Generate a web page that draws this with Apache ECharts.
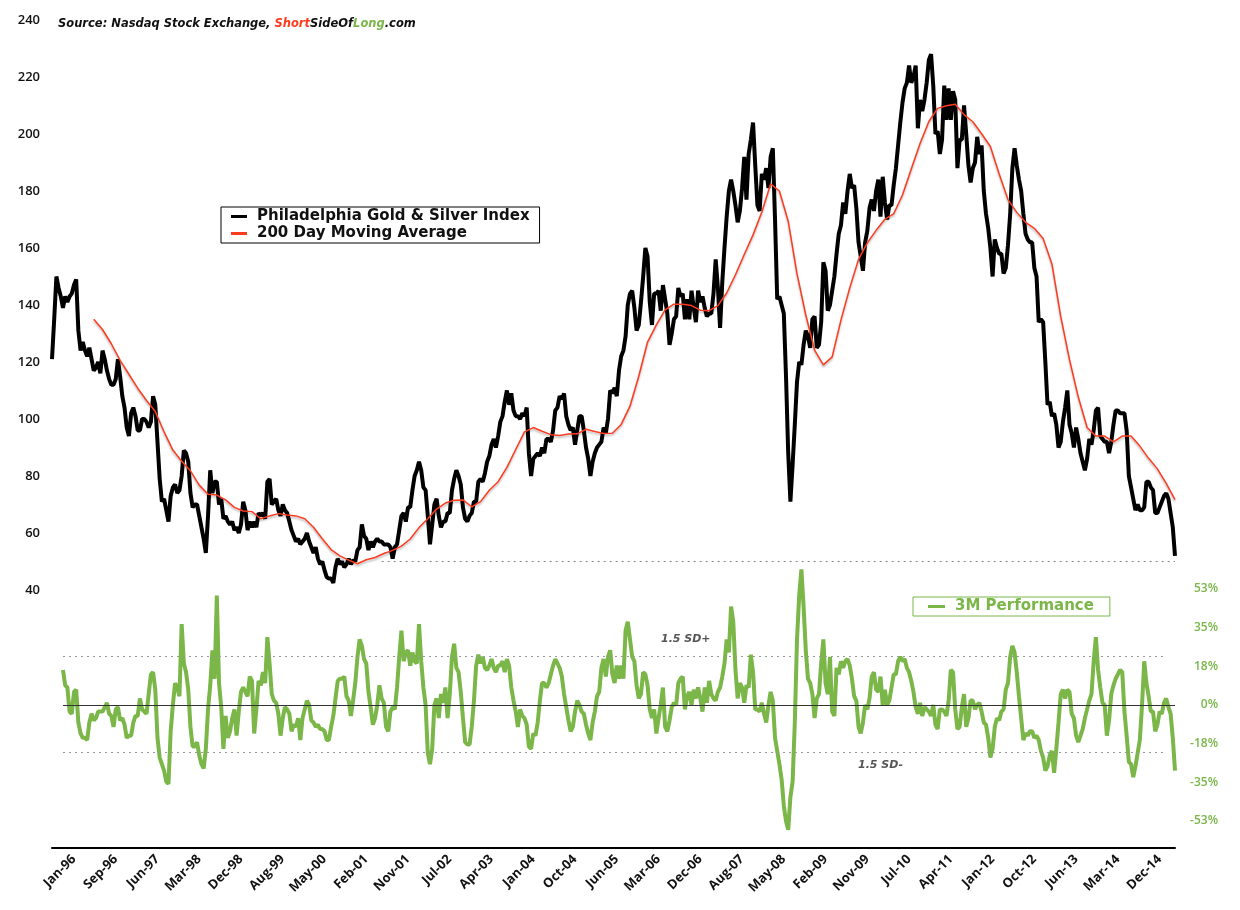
<!DOCTYPE html>
<html><head><meta charset="utf-8">
<script src="https://cdn.jsdelivr.net/npm/echarts@6/dist/echarts.min.js"></script>
<style>html,body{margin:0;padding:0;background:#fff}#c{width:1240px;height:910px}</style>
</head><body><div id="c"></div>
<script>
// ---- data ----
const START_DATE = [1996, 0, 5];   // first weekly observation
const STEP_DAYS = 14;              // one sample every two weeks
const LABEL_EVERY = 19;            // a tick label every 38 weeks
const MONTHS = ['Jan','Feb','Mar','Apr','May','Jun','Jul','Aug','Sep','Oct','Nov','Dec'];

const XAU = [
121,135,150,146,143,139,143,141,143,144,
147,149,131,124,127,124,122,125,121,117,
118,120,116,124,121,117,114,112,112,114,
121,115,108,104,97,94,102,104,101,96,
96,100,100,99,97,99,108,105,92,79,
71,72,68,64,73,76,77,74,75,80,
89,88,85,74,69,70,70,66,62,58,
53,66,82,74,78,78,70,72,65,66,
64,63,64,61,62,60,63,71,68,61,
64,62,64,62,67,66,67,65,78,79,
70,71,72,68,66,70,68,67,64,61,
59,57,58,56,57,58,60,57,55,53,
55,51,49,50,47,44.5,44,44,42.5,48,
51,49,50,48,49,51,49,50.5,50,54,
55,63,59,58,54,57,55,57,58,57,
57,56,56,56,55,51,55,56,61,66,
67,64,69,69,75,80,82,85,82,76,
75,66,56,63,70,72,66,62,64,64,
67,67,75,79,82,80,77,69,65,64,
66,67,71,71,78,79,78,81,85,87,
91,93,90,94,99,101,106,110,105,109,
103,101,101,100,102,101,104,88,80,86,
87,88,87,90,88,93,93,92,96,103,
104,108,107,109,101,98,96,97,91,96,
101,101,96,90,86,80,85,88,90,91,
92,97,95,100,110,109,111,108,117,122,
124,129,140,144,145,139,131,133,141,150,
160,157,141,133,144,144,145,138,147,142,
137,126,130,135,136,146,143,144,135,142,
135,145,139,134,145,141,143,139,136,137,
137,144,156,146,132,148,160,171,180,184,
180,175,169,173,181,192,177,193,198,204,
189,175,173,186,184,188,181,192,195,170,
142,143,140,137,115,88,71,84,98,113,
120,119,126,131,129,125,135,136,125,126,
134,155,152,138,140,145,150,158,165,168,
176,172,180,186,181,182,174,162,157,152,
162,166,174,177,173,180,184,171,185,176,
170,175,175,182,188,196,204,211,216,218,
224,218,220,224,202,212,208,212,218,226,
228,217,200,201,193,198,217,205,216,205,
215,212,188,198,198,210,200,189,183,188,
190,199,193,196,180,172,167,160,150,163,
160,158,158,151,153,161,172,188,195,189,
184,180,172,165,163,162,162,153,150,134,
135,134,120,105,106,101,102,98,90,92,
99,104,110,98,95,90,97,93,88,85,
82,86,93,91,96,103,104,94,93,92,
92,88,92,98,103,103,102,102,102,96,
80,76,72,68,70,68,68,69,78,78,
76,75,67,67,69,71,73,74,72,67,
62,52
];

// 200-day moving average, read every 4th sample starting at sample 19
const MA_START = 19, MA_STEP = 4;
const MA200 = [
135,131.4,126.4,120.6,115.7,110.8,106.5,102.6,95.5,89.1,
85.2,81.8,76.8,73.6,73.3,71.6,69,67.7,67.5,65,
66,66.8,66.3,66,65,62,58,54.2,52,50.5,
49.2,50.6,51.4,52.8,53.9,55.4,57.9,61.9,65,68.4,
70.5,71.5,71.6,69.2,71,75,78,83,89.3,95.5,
97,95.7,94.5,94.2,94.7,94.8,96.4,95.6,94.9,95,
98.1,104.5,115,127,133,138.3,140.3,140.3,139.8,138.2,
138,139.8,144.2,150.6,157.7,164.6,172.6,182.5,180,169.4,
151,136.5,124.2,119,121.8,134.7,146,156,161.8,166.2,
170.1,172,178.6,187.7,196.7,204.4,209,209.9,210.4,206.8,
204.3,200.1,195.6,186,177,172.5,169,166.9,163.3,154.4,
136,120.8,107.7,97,94,94,92,94,94,90.5,
86.2,82.5,77.4,71.7
];

// 3-month performance, percent
const PERF_3M = [
null,null,null,null,null,16,9,8,-3,-4,
6,7,-8,-13,-15,-15,-16,-8,-4,-7,
-6,-3,-3,-3,-1,1,-4,-5,-10,-2,
-1,-7,-6,-9,-15,-14,-14,-8,-5,-5,
3,-2,-3,-4,5,14,15,7,-15,-24,
-27,-30,-35,-36,-12,0,10,8,4,37,
19,15,7,-10,-19,-19,-17,-23,-27,-29,
-20,-2,9,25,12,50,10,-1,-20,-5,
-15,-12,-6,-2,-14,-3,6,8,6,4,
13,11,-13,-2,11,9,15,10,31,19,
5,2,1,-4,-14,-6,-1,-2,-4,-12,
-9,-10,-6,-16,-6,-2,2,0,-7,-8,
-10,-9,-11,-11,-12,-16,-16,-10,-5,3,
11,12,12,13,4,2,-5,2,10,22,
30,27,21,19,6,-1,-9,-6,0,9,
3,1,-10,-12,-3,-1,-2,8,22,34,
20,24,25,18,24,20,19,37,20,8,
0,-22,-27,-20,0,3,-6,5,1,8,
-6,5,22,28,17,15,6,-6,-17,-18,
-18,-10,2,18,23,19,22,17,16,18,
21,17,15,18,18,20,15,21,18,8,
2,-3,-10,-2,-5,-6,-9,-19,-20,-13,
-14,-8,2,10,10,8,10,14,18,21,
19,17,13,5,-1,-7,-12,-10,-3,2,
0,-3,-4,-9,-13,-16,-8,-3,4,6,
17,21,13,22,25,14,10,18,12,18,
12,34,38,30,22,20,9,3,5,15,
14,9,-2,-6,-2,-13,-6,0,8,-10,
-12,-7,-1,1,0,10,12,13,-2,4,
6,0,7,3,8,3,-3,8,1,11,
5,3,2,6,8,13,19,30,24,45,
38,16,3,10,8,1,9,8,23,15,
-2,-2,-3,1,-4,-8,0,6,2,-15,
-21,-27,-34,-46,-53,-57,-42,-35,-8,30,
50,62,45,25,12,10,5,-6,3,5,
19,30,10,5,22,-3,-5,17,14,20,
17,20,21,18,12,4,2,-10,-13,-8,
0,-2,3,13,15,7,6,13,0,7,
0,2,8,14,14,20,22,20,21,17,
15,11,6,-1,-4,1,-5,-1,-2,-3,
-5,0,-9,-11,-2,-2,-3,-5,2,16,
15,-2,-11,-10,-1,5,-10,-6,2,2,
-2,0,1,-3,-8,-9,-15,-24,-20,-10,
-6,-7,-3,-2,7,10,22,27,24,15,
4,-6,-16,-13,-14,-12,-12,-15,-14,-16,
-21,-24,-30,-28,-23,-21,-31,-20,-8,5,
7,3,7,6,-4,-6,-14,-17,-14,-11,
-6,-2,2,5,20,31,16,8,1,0,
-14,-7,5,9,12,14,16,15,-3,-14,
-26,-27,-33,-28,-22,-16,0,20,10,4,
-3,-3,-12,-9,-3,-4,1,3,-1,-4,
-15,-30
];

const SD_PLUS = 22.4, SD_MINUS = -21.5;   // 1.5 standard-deviation bands (%)
const SUPPORT = 50;                        // dotted support level on the index
const SUPPORT_FROM = 150;                  // sample where the support line starts
const PRICE_AXIS = {min: 40, max: 240, interval: 20};
const PERF_AXIS = {min: -53, max: 53, interval: 53 / 3};

// ---- build ----
const categories = XAU.map((_, i) => {
  const d = new Date(Date.UTC(START_DATE[0], START_DATE[1], START_DATE[2] + i * STEP_DAYS));
  return MONTHS[d.getUTCMonth()] + '-' + String(d.getUTCFullYear()).slice(2);
});
const maSeries = XAU.map(() => null);
MA200.forEach((v, k) => { maSeries[MA_START + k * MA_STEP] = v; });
const firstPerf = PERF_3M.findIndex(v => v !== null);
const last = XAU.length - 1;

const NUM_FONT = '"Open Sans", "DejaVu Sans", sans-serif';
const TXT_FONT = '"DejaVu Sans", "Open Sans", sans-serif';
const GREEN = '#7ab648';
const RED = '#ff3b1f';

const chart = echarts.init(document.getElementById('c'), null, {renderer: 'canvas'});
chart.setOption({
  animation: false,
  backgroundColor: '#fff',
  textStyle: {fontFamily: TXT_FONT},
  title: {
    text: '{a|Source: Nasdaq Stock Exchange, }{r|Short}{a|SideOf}{g|Long}{a|.com}',
    left: 53, top: 13,
    textStyle: {
      rich: {
        a: {fontSize: 11.5, fontStyle: 'italic', fontWeight: 'bold', color: '#111', fontFamily: TXT_FONT},
        r: {fontSize: 11.5, fontStyle: 'italic', fontWeight: 'bold', color: RED, fontFamily: TXT_FONT},
        g: {fontSize: 11.5, fontStyle: 'italic', fontWeight: 'bold', color: GREEN, fontFamily: TXT_FONT}
      }
    }
  },
  legend: [
    {
      data: ['Philadelphia Gold & Silver Index', '200 Day Moving Average'],
      left: 221, top: 207, orient: 'vertical', itemGap: 2,
      itemWidth: 16, itemHeight: 3, icon: 'rect',
      padding: [2, 10, 2, 10], borderColor: '#000', borderWidth: 1, backgroundColor: '#fff',
      selectedMode: false,
      textStyle: {fontSize: 15, fontWeight: 'bold', color: '#111', fontFamily: TXT_FONT, padding: [0, 0, 0, 5]}
    },
    {
      data: ['3M Performance'],
      left: 913, top: 597, itemWidth: 17, itemHeight: 3, icon: 'rect',
      padding: [2, 16, 2, 15], borderColor: GREEN, borderWidth: 1, backgroundColor: '#fff',
      selectedMode: false,
      textStyle: {fontSize: 15, fontWeight: 'bold', color: GREEN, fontFamily: TXT_FONT, padding: [0, 0, 0, 5]}
    }
  ],
  grid: [
    {left: 52, right: 65, top: 20, height: 570},
    {left: 52, right: 65, top: 589, height: 232}
  ],
  xAxis: [
    {type: 'category', gridIndex: 0, data: categories, boundaryGap: false, show: false},
    {
      type: 'category', gridIndex: 1, data: categories, boundaryGap: false, offset: 27,
      axisLine: {onZero: false, lineStyle: {color: '#000', width: 2}},
      axisTick: {show: false},
      axisLabel: {
        interval: LABEL_EVERY - 1, rotate: 45, fontSize: 13, fontWeight: 700, color: '#111',
        margin: 31, fontFamily: NUM_FONT, padding: [0, -31, 0, 0]
      }
    }
  ],
  yAxis: [
    {
      type: 'value', gridIndex: 0, min: PRICE_AXIS.min, max: PRICE_AXIS.max, interval: PRICE_AXIS.interval,
      splitLine: {show: false}, axisLine: {show: false}, axisTick: {show: false},
      axisLabel: {margin: 12, fontSize: 13, fontWeight: 600, color: '#111', fontFamily: NUM_FONT}
    },
    {
      type: 'value', gridIndex: 1, position: 'right',
      min: PERF_AXIS.min, max: PERF_AXIS.max, interval: PERF_AXIS.interval,
      splitLine: {show: false}, axisLine: {show: false}, axisTick: {show: false},
      axisLabel: {
        formatter: v => Math.round(v) + '%', color: GREEN, fontSize: 12, fontWeight: 600,
        align: 'right', margin: 43, fontFamily: NUM_FONT
      }
    }
  ],
  graphic: [
    {type: 'text', left: 661, top: 634, style: {text: '1.5 SD+', fill: '#555', font: 'italic bold 11px "DejaVu Sans"'}},
    {type: 'text', left: 858, top: 760, style: {text: '1.5 SD-', fill: '#555', font: 'italic bold 11px "DejaVu Sans"'}}
  ],
  series: [
    {
      name: 'Philadelphia Gold & Silver Index', type: 'line', xAxisIndex: 0, yAxisIndex: 0,
      data: XAU, showSymbol: false, symbol: 'none', color: '#000',
      lineStyle: {color: '#000', width: 4}, z: 3,
      markLine: {
        silent: true, symbol: 'none', label: {show: false},
        lineStyle: {color: '#888', type: [2, 4], width: 1},
        data: [[{coord: [SUPPORT_FROM, SUPPORT]}, {coord: [last, SUPPORT]}]]
      }
    },
    {
      name: '200 Day Moving Average', type: 'line', xAxisIndex: 0, yAxisIndex: 0,
      data: maSeries, connectNulls: true, showSymbol: false, symbol: 'none', color: RED,
      lineStyle: {color: RED, width: 1.5, shadowColor: 'rgba(0,0,0,0.28)', shadowBlur: 2, shadowOffsetY: 2}, z: 4
    },
    {
      name: '3M Performance', type: 'line', xAxisIndex: 1, yAxisIndex: 1,
      data: PERF_3M, showSymbol: false, symbol: 'none', color: GREEN, clip: false,
      lineStyle: {color: GREEN, width: 4}, z: 3,
      markLine: {
        silent: true, symbol: 'none', label: {show: false},
        data: [
          [{coord: [firstPerf, 0], lineStyle: {color: '#333', type: 'solid', width: 1.2}}, {coord: [last, 0]}],
          [{coord: [firstPerf, SD_PLUS], lineStyle: {color: '#999', type: [2, 4], width: 1}}, {coord: [last - 5, SD_PLUS]}],
          [{coord: [firstPerf, SD_MINUS], lineStyle: {color: '#999', type: [2, 4], width: 1}}, {coord: [last - 5, SD_MINUS]}]
        ]
      }
    }
  ]
});
</script>
</body></html>
